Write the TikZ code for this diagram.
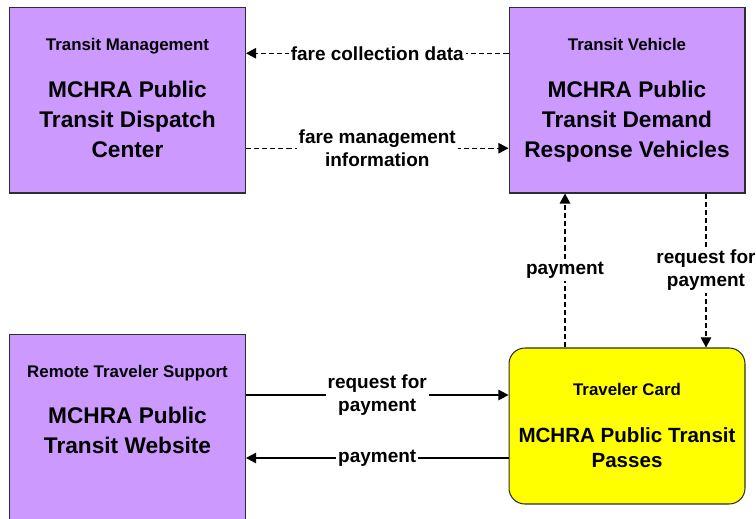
\documentclass[tikz,border=0pt]{standalone}
\usepackage{fontspec}
\setmainfont{Liberation Sans}
\usetikzlibrary{arrows.meta,positioning,calc}
\definecolor{lilac}{HTML}{CC99FF}
\definecolor{cardyellow}{HTML}{FFFF00}
\definecolor{edgegray}{HTML}{2E2E2E}
\tikzset{
  sysbox/.style={
    rectangle, draw=edgegray, fill=#1, line width=0.6pt,
    minimum width=4.72cm, minimum height=3.71cm,
    inner sep=0pt
  },
  sysbox/.default=lilac,
  cardbox/.style={
    sysbox=cardyellow, rounded corners=9pt,
    minimum height=3.12cm
  },
  typetext/.style={font=\fontsize{9.6}{11.5}\selectfont\bfseries,
    anchor=north, inner sep=0pt},
  nametext/.style={font=\fontsize{12.9}{17}\selectfont\bfseries,
    align=center, anchor=north, inner sep=0pt},
  flowarrow/.style={
    -{Triangle[length=5.8pt,width=6pt]}, line width=0.85pt, color=black
  },
  flowdash/.style={flowarrow, dash pattern=on 2.9pt off 1.7pt},
  flowlabel/.style={fill=white, font=\fontsize{10.8}{13}\selectfont\bfseries,
    align=center, inner sep=1.2pt},
}
\begin{document}
\begin{tikzpicture}[x=0.02cm, y=-0.02cm]
  \useasboundingbox (0,0) rectangle (756,518);
  \clip (0,0) rectangle (756,518);
  % boxes
  \node[sysbox] (tmc) at (127.5,100.25) {};
  \node[sysbox] (veh) at (627,100.25) {};
  \node[sysbox, minimum height=4.12cm] (web) at (127.5,437) {};
  \node[cardbox] (pass) at (627,426) {};
  % box texts
  \node[typetext] (tmcType) at (127.5,38) {Transit Management};
  \node[nametext] (tmcName) at (127.5,81) {MCHRA Public\\Transit Dispatch\\Center};
  \node[typetext] (vehType) at (627,38) {Transit Vehicle};
  \node[nametext] (vehName) at (627,81) {MCHRA Public\\Transit Demand\\Response Vehicles};
  \node[typetext] (webType) at (127.5,365) {Remote Traveler Support};
  \node[nametext] (webName) at (127.5,407) {MCHRA Public\\Transit Website};
  \node[typetext] (passType) at (627,383) {Traveler Card};
  \node[nametext, font=\fontsize{11.7}{14.2}\selectfont\bfseries]
    (passName) at (627,427) {MCHRA Public Transit\\Passes};
  % flows
  \coordinate (reqIn) at ([yshift=0.62cm]pass.west);
  \coordinate (payOut) at ([yshift=-0.64cm]pass.west);
  \draw[flowdash] ([yshift=0.94cm]veh.west) -- ([yshift=0.94cm]tmc.east)
    node[flowlabel, midway] (collectLbl) {fare collection data};
  \draw[flowdash] ([yshift=-0.96cm]tmc.east) -- ([yshift=-0.96cm]veh.west)
    node[flowlabel, midway] (mgmtLbl) {fare management\\information};
  \draw[flowdash] ([xshift=-1.24cm]pass.north) -- ([xshift=-1.24cm]veh.south)
    node[flowlabel, midway] (payUpLbl) {payment};
  \draw[flowdash] ([xshift=1.58cm]veh.south) -- ([xshift=1.58cm]pass.north)
    node[flowlabel, midway] (reqDownLbl) {request for\\payment};
  \draw[flowarrow] (web.east |- reqIn) -- (reqIn)
    node[flowlabel, midway] (reqLbl) {request for\\payment};
  \draw[flowarrow] (payOut) -- (web.east |- payOut)
    node[flowlabel, midway] (payLbl) {payment};
\end{tikzpicture}
\end{document}
